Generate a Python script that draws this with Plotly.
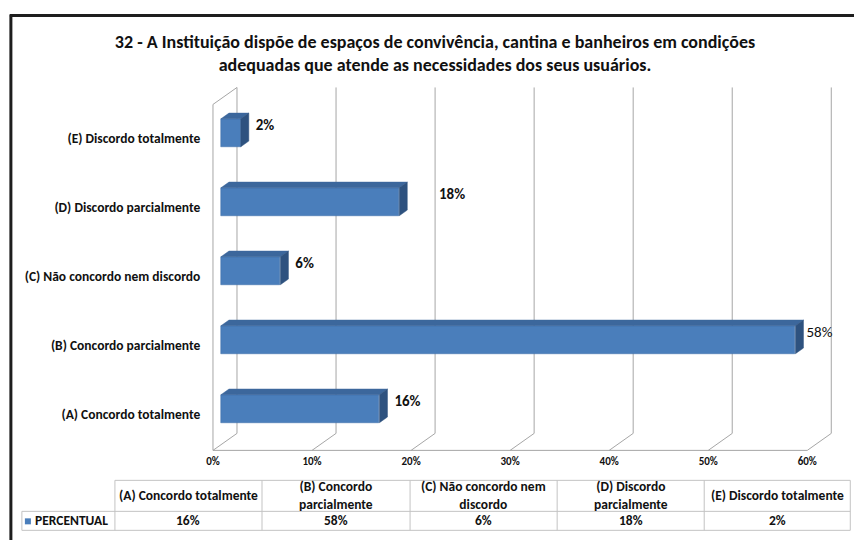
import plotly.graph_objects as go

# ---------------- data ----------------
categories = ["(A) Concordo totalmente", "(B) Concordo parcialmente",
              "(C) Não concordo nem discordo", "(D) Discordo parcialmente",
              "(E) Discordo totalmente"]
table_headers = ["(A) Concordo totalmente", "(B) Concordo<br>parcialmente",
                 "(C) Não concordo nem<br>discordo", "(D) Discordo<br>parcialmente",
                 "(E) Discordo totalmente"]
values = [16, 58, 6, 18, 2]
series_name = "PERCENTUAL"
x_ticks = [0, 10, 20, 30, 40, 50, 60]
x_tick_labels = [f"{t}%" for t in x_ticks]
title_text = ("32 - A Instituição dispõe de espaços de convivência, cantina e banheiros em condições"
              "<br>adequadas que atende as necessidades dos seus usuários.")

# label placement tweak (extra gap, in % units) per bar, as in the original
label_gap = [0.7, 0.3, 0.7, 3.2, 0.7]

# ---------------- layout geometry ----------------
W, H = 854, 540
FONT = "Carlito, 'Liberation Sans Narrow', 'Arial Narrow', Roboto, sans-serif"
X_RANGE = [-0.2, 62.8]
Y_RANGE = [-0.56, 4.76]
PXX = 9.9      # px per %
PXY = 69.0     # px per category unit
X0_PIX = 213   # pixel of 0%
Y0_PIX = 414   # pixel of first category
L = X0_PIX + X_RANGE[0] * PXX
PW = (X_RANGE[1] - X_RANGE[0]) * PXX
R = W - L - PW
T = Y0_PIX - Y_RANGE[1] * PXY
PH = (Y_RANGE[1] - Y_RANGE[0]) * PXY
B = H - T - PH

DX = 24 / PXX          # 3D depth in x units
DY = 17 / PXY          # 3D depth in y units
FLOOR = -0.522         # front floor level
TOP = 4.739            # top of back wall
BAR_H = 28 / PXY
GRID = "#a6a6a6"
BLUE = "#4A7EBB"
BLUE_TOP = "#3C679C"
BLUE_SIDE = "#2E527F"


def pxp(px):
    return (px - L) / PW


def pyp(py):
    return (H - B - py) / PH


fig = go.Figure()

# ---- 3D frame (walls + floor) ----
shapes = []
ln = dict(color=GRID, width=1)
for t in x_ticks:
    shapes.append(dict(type="line", xref="x", yref="y", x0=t + DX, x1=t + DX,
                       y0=FLOOR + DY, y1=TOP, line=ln, layer="below"))
    shapes.append(dict(type="line", xref="x", yref="y", x0=t, x1=t + DX,
                       y0=FLOOR, y1=FLOOR + DY, line=ln, layer="below"))
shapes.append(dict(type="line", xref="x", yref="y", x0=x_ticks[0], x1=x_ticks[-1],
                   y0=FLOOR, y1=FLOOR, line=ln, layer="below"))
shapes.append(dict(type="line", xref="x", yref="y", x0=0, x1=0,
                   y0=FLOOR, y1=TOP - DY, line=ln, layer="below"))
shapes.append(dict(type="line", xref="x", yref="y", x0=0, x1=DX,
                   y0=TOP - DY, y1=TOP, line=ln, layer="below"))

# ---- bars ----
d = DX / 3
ypos = [k + DY / 3 for k in range(len(values))]
fig.add_trace(go.Bar(
    x=values, y=ypos, base=d, orientation="h", width=BAR_H,
    marker=dict(color=BLUE, line=dict(color="#3d6da6", width=0.5)),
    hoverinfo="skip", showlegend=False))

top_x, top_y, side_x, side_y = [], [], [], []
for v, yc in zip(values, ypos):
    x1 = d + v
    yt = yc + BAR_H / 2
    yb = yc - BAR_H / 2
    top_x += [d, x1, x1 + d, 2 * d, d, None]
    top_y += [yt, yt, yt + DY / 3, yt + DY / 3, yt, None]
    side_x += [x1, x1 + d, x1 + d, x1, x1, None]
    side_y += [yb, yb + DY / 3, yt + DY / 3, yt, yb, None]
fig.add_trace(go.Scatter(x=top_x, y=top_y, fill="toself", fillcolor=BLUE_TOP,
                         mode="lines", line=dict(color=BLUE_TOP, width=0.5),
                         hoverinfo="skip", showlegend=False))
fig.add_trace(go.Scatter(x=side_x, y=side_y, fill="toself", fillcolor=BLUE_SIDE,
                         mode="lines", line=dict(color=BLUE_SIDE, width=0.5),
                         hoverinfo="skip", showlegend=False))

# ---- data labels ----
label_text = [f"<b>{v}%</b>" if v != max(values) else f"{v}%" for v in values]
fig.add_trace(go.Scatter(
    x=[d + v + d + g for v, g in zip(values, label_gap)], y=[y + 0.09 for y in ypos],
    mode="text", text=label_text, textposition="middle right",
    textfont=dict(family=FONT, size=15, color="#111111"),
    cliponaxis=False, hoverinfo="skip", showlegend=False))

# ---- data table below ----
col_edges = [115, 262, 410, 557, 704, 850]
tab_left = 22
row_top, row_mid, row_bot = 480, 511, 530
tc = dict(color="#c3c3c3", width=1)
shapes.append(dict(type="line", xref="paper", yref="paper", x0=pxp(col_edges[0]), x1=pxp(col_edges[-1]),
                   y0=pyp(row_top), y1=pyp(row_top), line=tc))
shapes.append(dict(type="line", xref="paper", yref="paper", x0=pxp(tab_left), x1=pxp(col_edges[-1]),
                   y0=pyp(row_mid), y1=pyp(row_mid), line=tc))
shapes.append(dict(type="line", xref="paper", yref="paper", x0=pxp(tab_left), x1=pxp(col_edges[-1]),
                   y0=pyp(row_bot), y1=pyp(row_bot), line=tc))
shapes.append(dict(type="line", xref="paper", yref="paper", x0=pxp(tab_left), x1=pxp(tab_left),
                   y0=pyp(row_mid), y1=pyp(row_bot), line=tc))
for e in col_edges:
    shapes.append(dict(type="line", xref="paper", yref="paper", x0=pxp(e), x1=pxp(e),
                       y0=pyp(row_top), y1=pyp(row_bot), line=tc))
shapes.append(dict(type="rect", xref="paper", yref="paper", x0=pxp(25), x1=pxp(31),
                   y0=pyp(524), y1=pyp(518), fillcolor=BLUE, line=dict(width=0)))

ann = []
tfont = dict(family=FONT, size=13.5, color="#111111")
for i, (h, v) in enumerate(zip(table_headers, values)):
    cx = (col_edges[i] + col_edges[i + 1]) / 2
    ann.append(dict(xref="paper", yref="paper", x=pxp(cx), y=pyp((row_top + row_mid) / 2),
                    text=f"<b>{h}</b>", showarrow=False, font=tfont, xanchor="center",
                    yanchor="middle"))
    ann.append(dict(xref="paper", yref="paper", x=pxp(cx), y=pyp((row_mid + row_bot) / 2),
                    text=f"<b>{v}%</b>", showarrow=False, font=tfont, xanchor="center", yanchor="middle"))
ann.append(dict(xref="paper", yref="paper", x=pxp(33), y=pyp((row_mid + row_bot) / 2),
                text=f"<b>{series_name}</b>", showarrow=False, font=tfont,
                xanchor="left", yanchor="middle"))

# ---- outer frame ----
frame = dict(color="#1e1e1e", width=3)
shapes.append(dict(type="line", xref="paper", yref="paper", x0=pxp(10), x1=pxp(860),
                   y0=pyp(15), y1=pyp(15), line=frame))
shapes.append(dict(type="line", xref="paper", yref="paper", x0=pxp(11), x1=pxp(11),
                   y0=pyp(14), y1=pyp(545), line=frame))

fig.update_layout(
    width=W, height=H,
    margin=dict(l=L, r=R, t=T, b=B, autoexpand=False),
    paper_bgcolor="white", plot_bgcolor="white",
    font=dict(family=FONT, color="#111111"),
    title=dict(text=f"<b>{title_text}</b>", x=435 / W, y=1 - 48 / H,
               xref="container", yref="container", xanchor="center", yanchor="middle",
               font=dict(family=FONT, size=18, color="#111111")),
    xaxis=dict(range=X_RANGE, tickvals=x_ticks, ticktext=x_tick_labels,
               showgrid=False, zeroline=False, showline=False, ticks="",
               tickfont=dict(family=FONT, size=11, weight="bold"), automargin=False,
               fixedrange=True),
    yaxis=dict(range=Y_RANGE, tickvals=list(range(len(categories))), ticktext=categories,
               showgrid=False, zeroline=False, showline=False,
               ticks="outside", ticklen=7, tickcolor="rgba(0,0,0,0)",
               tickfont=dict(family=FONT, size=13.5, weight="bold"), automargin=False,
               fixedrange=True),
    shapes=shapes, annotations=ann, showlegend=False, bargap=0,
)

fig.write_html("out.html", config={"displayModeBar": False},
               post_script="document.body.style.margin='0';document.body.style.overflow='hidden';")
